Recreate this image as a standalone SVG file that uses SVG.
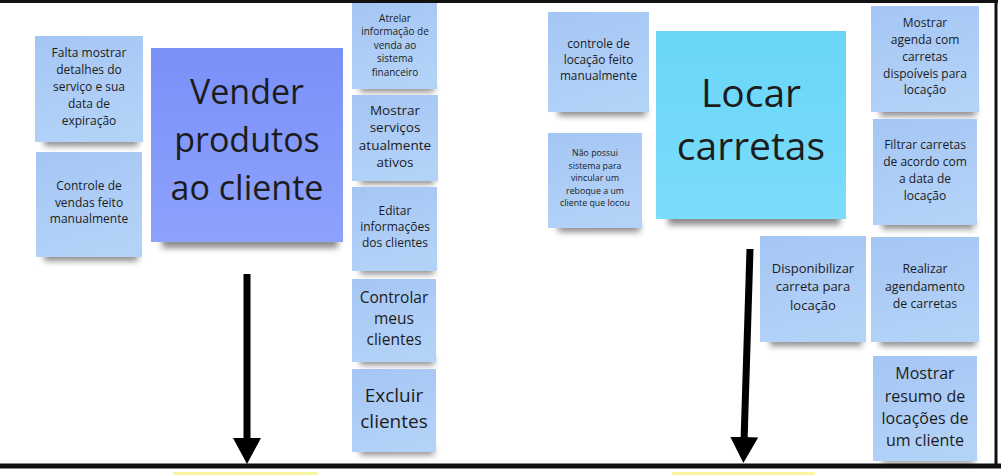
<svg xmlns="http://www.w3.org/2000/svg" width="1001" height="475" viewBox="0 0 1001 475">
<style>
.t{font-family:"Open Sans","Noto Sans","DejaVu Sans",sans-serif;fill:#1c1c1c;text-anchor:middle}
.note{fill:url(#gNote)}
.sh{fill:#000;opacity:.45;filter:url(#blur)}
.frame{stroke:#111;fill:none}
.conn{stroke:#000;stroke-width:7;fill:none;marker-end:url(#ah)}
</style>
<defs>
<linearGradient id="gNote" x1="0" y1="0" x2="0.3" y2="1">
<stop offset="0" stop-color="#a5c6f4"/><stop offset="1" stop-color="#b3d2f8"/>
</linearGradient>
<linearGradient id="gVender" x1="0" y1="0" x2="0" y2="1">
<stop offset="0" stop-color="#7a90f9"/><stop offset="1" stop-color="#8da2fc"/>
</linearGradient>
<linearGradient id="gLocar" x1="0" y1="0" x2="0" y2="1">
<stop offset="0" stop-color="#69d6f8"/><stop offset="1" stop-color="#7cdcfb"/>
</linearGradient>
<filter id="blur" x="-20%" y="-100%" width="140%" height="300%"><feGaussianBlur stdDeviation="3"/></filter>
<marker id="ah" markerUnits="userSpaceOnUse" markerWidth="28" markerHeight="30" refX="2" refY="14" orient="auto">
<path d="M0,0 L26,14 L0,28 z" fill="#000"/>
</marker>
</defs>
<rect width="1001" height="475" fill="#fff"/>
<g id="frame">
<line class="frame" x1="0" y1="1.5" x2="998" y2="1.5" stroke-width="3" stroke="#333"/>
<line class="frame" x1="996" y1="0" x2="996" y2="467" stroke-width="3"/>
<line class="frame" x1="0" y1="466" x2="1001" y2="466" stroke-width="5"/>
<rect x="173" y="472" width="145" height="3" fill="#fbf6a0"/>
<rect x="672" y="472" width="143" height="3" fill="#fbf6a0"/>
</g>

<g id="falta">
<rect class="sh" x="44" y="136" width="94" height="10"/>
<rect class="note" x="35" y="36" width="108" height="106"/>
<text class="t" font-size="12"><tspan x="89" y="57">Falta mostrar</tspan><tspan x="89" y="74">detalhes do</tspan><tspan x="89" y="91">serviço e sua</tspan><tspan x="89" y="108">data de</tspan><tspan x="89" y="125">expiração</tspan></text>
</g>
<g id="controle-vendas">
<rect class="sh" x="44" y="251" width="94" height="10"/>
<rect class="note" x="36" y="152" width="106" height="105"/>
<text class="t" font-size="12"><tspan x="89" y="190">Controle de</tspan><tspan x="89" y="206.5">vendas feito</tspan><tspan x="89" y="223">manualmente</tspan></text>
</g>
<g id="vender">
<rect class="sh" x="162" y="234" width="176" height="14"/>
<rect x="151" y="48" width="192" height="194" fill="url(#gVender)"/>
<text class="t" font-size="34"><tspan x="247" y="104">Vender</tspan><tspan x="247" y="152">produtos</tspan><tspan x="247" y="200">ao cliente</tspan></text>
</g>

<g id="atrelar">
<rect class="sh" x="360" y="83" width="74" height="9"/>
<rect class="note" x="352" y="3" width="85" height="86"/>
<text class="t" font-size="10"><tspan x="395" y="21.5">Atrelar</tspan><tspan x="395" y="35">informação de</tspan><tspan x="395" y="48.5">venda ao</tspan><tspan x="395" y="62">sistema</tspan><tspan x="395" y="75.5">financeiro</tspan></text>
</g>
<g id="mostrar-servicos">
<rect class="sh" x="360" y="175" width="74" height="9"/>
<rect class="note" x="352" y="95" width="86" height="86"/>
<text class="t" font-size="13.5"><tspan x="395" y="115">Mostrar</tspan><tspan x="395" y="132.3">serviços</tspan><tspan x="395" y="149.6">atualmente</tspan><tspan x="395" y="166.9">ativos</tspan></text>
</g>
<g id="editar">
<rect class="sh" x="360" y="265" width="74" height="9"/>
<rect class="note" x="352" y="187" width="85" height="84"/>
<text class="t" font-size="12"><tspan x="395" y="215">Editar</tspan><tspan x="395" y="231">informações</tspan><tspan x="395" y="247">dos clientes</tspan></text>
</g>
<g id="controlar">
<rect class="sh" x="360" y="356" width="74" height="9"/>
<rect class="note" x="352" y="279" width="84" height="83"/>
<text class="t" font-size="15.5"><tspan x="394" y="302.5">Controlar</tspan><tspan x="394" y="323.5">meus</tspan><tspan x="394" y="344.5">clientes</tspan></text>
</g>
<g id="excluir">
<rect class="sh" x="360" y="446" width="74" height="9"/>
<rect class="note" x="352" y="369" width="84" height="83"/>
<text class="t" font-size="19"><tspan x="394" y="401.5">Excluir</tspan><tspan x="394" y="427.5">clientes</tspan></text>
</g>

<g id="controle-locacao">
<rect class="sh" x="558" y="106" width="88" height="10"/>
<rect class="note" x="548" y="12" width="101" height="100"/>
<text class="t" font-size="11.8"><tspan x="598.5" y="48">controle de</tspan><tspan x="598.5" y="64">locação feito</tspan><tspan x="598.5" y="80">manualmente</tspan></text>
</g>
<g id="nao-possui">
<rect class="sh" x="558" y="222" width="82" height="10"/>
<rect class="note" x="548" y="133" width="94" height="95"/>
<text class="t" font-size="8.8"><tspan x="595" y="156">Não possui</tspan><tspan x="595" y="168.5">sistema para</tspan><tspan x="595" y="181">vincular um</tspan><tspan x="595" y="193.5">reboque a um</tspan><tspan x="595" y="206">cliente que locou</tspan></text>
</g>
<g id="locar">
<rect class="sh" x="668" y="211" width="172" height="14"/>
<rect x="656" y="31" width="190" height="188" fill="url(#gLocar)"/>
<text class="t" font-size="39"><tspan x="751" y="107">Locar</tspan><tspan x="751" y="160">carretas</tspan></text>
</g>

<g id="mostrar-agenda">
<rect class="sh" x="880" y="106" width="96" height="10"/>
<rect class="note" x="871" y="6" width="108" height="106"/>
<text class="t" font-size="12"><tspan x="925" y="27">Mostrar</tspan><tspan x="925" y="44">agenda com</tspan><tspan x="925" y="61">carretas</tspan><tspan x="925" y="77.5">dispoíveis para</tspan><tspan x="925" y="94">locação</tspan></text>
</g>
<g id="filtrar">
<rect class="sh" x="882" y="219" width="92" height="10"/>
<rect class="note" x="873" y="119" width="104" height="106"/>
<text class="t" font-size="12"><tspan x="925" y="149">Filtrar carretas</tspan><tspan x="925" y="166">de acordo com</tspan><tspan x="925" y="183">a data de</tspan><tspan x="925" y="200">locação</tspan></text>
</g>
<g id="disponibilizar">
<rect class="sh" x="770" y="336" width="92" height="10"/>
<rect class="note" x="760" y="236" width="106" height="106"/>
<text class="t" font-size="13"><tspan x="813" y="272.5">Disponibilizar</tspan><tspan x="813" y="291">carreta para</tspan><tspan x="813" y="309.5">locação</tspan></text>
</g>
<g id="realizar">
<rect class="sh" x="880" y="336" width="96" height="10"/>
<rect class="note" x="871" y="237" width="108" height="105"/>
<text class="t" font-size="12.3"><tspan x="925" y="273">Realizar</tspan><tspan x="925" y="291">agendamento</tspan><tspan x="925" y="308">de carretas</tspan></text>
</g>
<g id="mostrar-resumo">
<rect class="sh" x="882" y="455" width="92" height="8"/>
<rect class="note" x="873" y="356" width="104" height="105"/>
<text class="t" font-size="16"><tspan x="925" y="379">Mostrar</tspan><tspan x="925" y="402">resumo de</tspan><tspan x="925" y="424">locações de</tspan><tspan x="925" y="445.5">um cliente</tspan></text>
</g>

<g id="connectors">
<line class="conn" x1="247" y1="274" x2="247" y2="440"/>
<line class="conn" x1="750" y1="249" x2="744.1" y2="439"/>
</g>
</svg>
